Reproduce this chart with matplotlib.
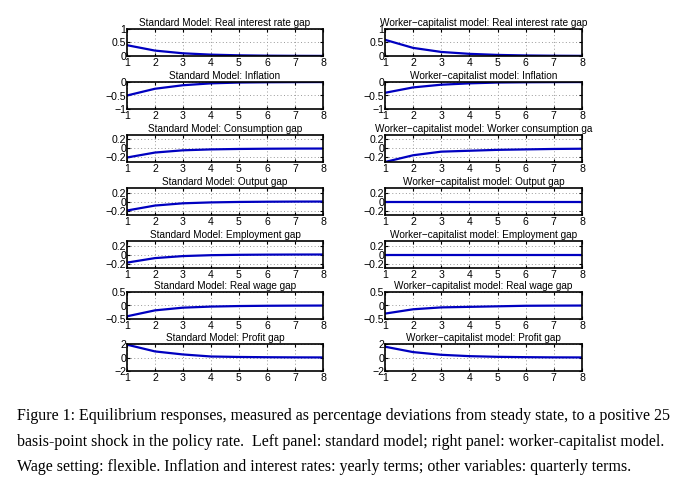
import numpy as np
import matplotlib
matplotlib.use("Agg")
import matplotlib.pyplot as plt

quarters = [1, 2, 3, 4, 5, 6, 7, 8]

# standard model responses
std_rate = [0.40, 0.20, 0.10, 0.05, 0.025, 0.012, 0.006, 0.003]
std_infl = [-0.50, -0.25, -0.12, -0.05, -0.02, -0.01, -0.005, -0.002]
std_cons = [-0.20, -0.09, -0.04, -0.02, -0.01, -0.005, -0.002, -0.001]
std_output = [-0.20, -0.09, -0.04, -0.02, -0.01, -0.005, -0.002, -0.001]
std_employ = [-0.18, -0.08, -0.035, -0.015, -0.007, -0.003, -0.001, 0.0]
std_wage = [-0.40, -0.18, -0.08, -0.04, -0.02, -0.01, -0.005, -0.002]
std_profit = [1.90, 0.90, 0.45, 0.15, 0.08, 0.04, 0.02, 0.01]

# worker-capitalist model responses
wc_rate = [0.60, 0.30, 0.15, 0.08, 0.04, 0.02, 0.01, 0.005]
wc_infl = [-0.40, -0.20, -0.10, -0.05, -0.02, -0.01, -0.005, -0.002]
wc_cons = [-0.30, -0.15, -0.07, -0.05, -0.03, -0.02, -0.01, -0.005]
wc_output = [0, 0, 0, 0, 0, 0, 0, 0]
wc_employ = [0, 0, 0, 0, 0, 0, 0, 0]
wc_wage = [-0.30, -0.14, -0.07, -0.05, -0.03, -0.01, -0.005, -0.002]
wc_profit = [1.60, 0.80, 0.40, 0.20, 0.10, 0.05, 0.02, 0.01]

std_titles = ["Standard Model: Real interest rate gap", "Standard Model: Inflation",
              "Standard Model: Consumption gap", "Standard Model: Output gap",
              "Standard Model: Employment gap", "Standard Model: Real wage gap",
              "Standard Model: Profit gap"]
wc_titles = ["Worker\u2212capitalist model: Real interest rate gap",
             "Worker\u2212capitalist model: Inflation",
             "Worker\u2212capitalist model: Worker consumption ga",
             "Worker\u2212capitalist model: Output gap",
             "Worker\u2212capitalist model: Employment gap",
             "Worker\u2212capitalist model: Real wage gap",
             "Worker\u2212capitalist model: Profit gap"]

y_limits = [(0, 1), (-1, 0), (-0.3, 0.3), (-0.3, 0.3), (-0.3, 0.3), (-0.5, 0.5), (-2, 2)]
y_ticks = [[0, 0.5, 1], [-1, -0.5, 0], [-0.2, 0, 0.2], [-0.2, 0, 0.2],
           [-0.2, 0, 0.2], [-0.5, 0, 0.5], [-2, 0, 2]]
y_labels = [["0", "0.5", "1"], ["\u22121", "\u22120.5", "0"], ["\u22120.2", "0", "0.2"],
            ["\u22120.2", "0", "0.2"], ["\u22120.2", "0", "0.2"], ["\u22120.5", "0", "0.5"],
            ["\u22122", "0", "2"]]

caption = ["Figure 1: Equilibrium responses, measured as percentage deviations from steady state, to a positive 25",
           "basis-point shock in the policy rate.  Left panel: standard model; right panel: worker-capitalist model.",
           "Wage setting: flexible. Inflation and interest rates: yearly terms; other variables: quarterly terms."]

plt.rcParams['font.family'] = ['Liberation Sans', 'DejaVu Sans']

W, H = 690, 486
fig = plt.figure(figsize=(W / 100, H / 100), dpi=100)

tops = [29, 82, 135, 188, 241, 292, 344]
ax_h = 27
cols = [(127, 196, std_titles, [std_rate, std_infl, std_cons, std_output, std_employ, std_wage, std_profit]),
        (385, 197, wc_titles, [wc_rate, wc_infl, wc_cons, wc_output, wc_employ, wc_wage, wc_profit])]

for left, width, titles, series in cols:
    for i, top in enumerate(tops):
        ax = fig.add_axes([left / W, 1 - (top + ax_h) / H, width / W, ax_h / H])
        ax.plot(quarters, series[i], color='#0000c0', lw=1.6)
        ax.set_xlim(1, 8)
        ax.set_ylim(*y_limits[i])
        ax.set_xticks(quarters)
        ax.set_yticks(y_ticks[i])
        ax.set_yticklabels(y_labels[i])
        ax.grid(True, ls=(0, (1, 2.5)), color='#999999', lw=0.7)
        ax.tick_params(direction='in', length=2.5, labelsize=7.6,
                       top=True, right=True, width=0.8)
        ax.tick_params(axis='y', pad=0.5)
        ax.tick_params(axis='x', pad=1.2)
        for sp in ax.spines.values():
            sp.set_linewidth(1.2)
        ax.set_title(titles[i], fontsize=7.2, pad=2)

for k, line in enumerate(caption):
    fig.text(17 / W, 1 - (420 + 25.5 * k) / H, line, family='Liberation Serif',
             fontsize=11.55, va='baseline', ha='left')

fig.savefig("out.png", dpi=100)
